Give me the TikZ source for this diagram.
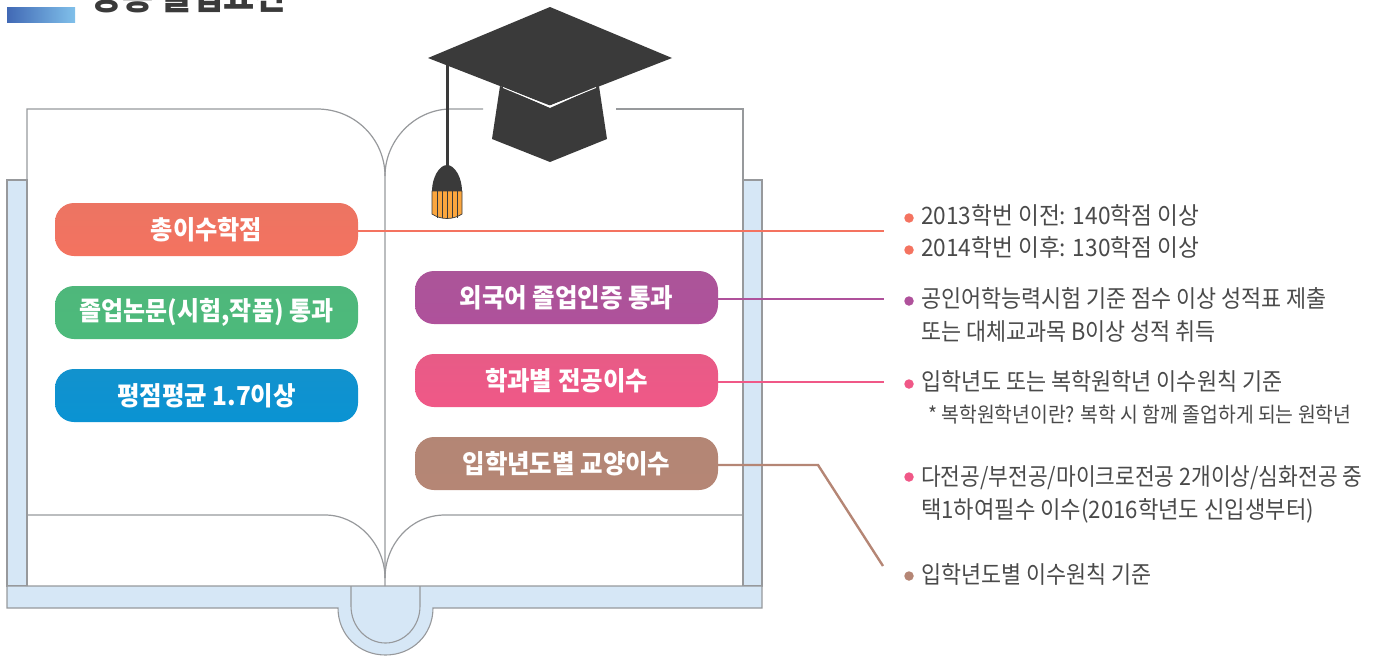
\documentclass[tikz,border=0pt]{standalone}
\usepackage{fontspec}
\usepackage{graphicx}
\setmainfont{Noto Sans CJK KR}
\newfontfamily\krb[FakeStretch=0.94]{Noto Sans CJK KR}
\newfontfamily\krr[FakeStretch=0.92]{Noto Sans CJK KR}
\definecolor{barl}{HTML}{4169B5}
\definecolor{barr}{HTML}{80C0EA}
\definecolor{coralc}{HTML}{F47360}
\definecolor{greenc}{HTML}{4CBA7B}
\definecolor{bluec}{HTML}{0A93D3}
\definecolor{purplec}{HTML}{AF519B}
\definecolor{pinkc}{HTML}{F05887}
\definecolor{brownc}{HTML}{B58675}
\definecolor{panelc}{HTML}{D6E7F6}
\definecolor{edgec}{HTML}{97999C}
\definecolor{capc}{HTML}{3A3A3A}
\definecolor{tasc}{HTML}{FBA63E}
\definecolor{txtc}{HTML}{4A4A4A}
\newcommand{\sx}[2]{\scalebox{#1}[1]{#2}}
\tikzset{
  x=1pt,y=-1pt,
  panel/.style={fill=panelc,draw=edgec,line width=1.1pt},
  pageline/.style={draw=edgec,line width=1.2pt},
  pill/.style={rounded corners=19pt,minimum width=303pt,minimum height=53pt,inner sep=0pt,text=white,font=\krb\bfseries\fontsize{26}{26}\selectfont,anchor=center},
  bullet/.style={circle,inner sep=0pt,minimum size=9.5pt},
  info/.style={anchor=base west,inner sep=0pt,text=txtc,font=\krr\fontsize{24}{24}\selectfont},
  link/.style={line width=2.4pt},
}
\begin{document}
\begin{tikzpicture}
\useasboundingbox (0,0) rectangle (1381,656);
% title
\fill[left color=barl,right color=barr] (7,7) rectangle (75,22);
\node[anchor=base west,inner sep=0pt,text=capc,font=\krb\bfseries\fontsize{36}{36}\selectfont] (title) at (91,9) {공통 졸업요건};
% covers
\draw[panel] (7,180) rectangle (27,586);
\draw[panel] (743,180) rectangle (762,586);
\draw[panel] (7,586) -- (762,586) -- (762,608) -- (433,608) .. controls (433,635) and (412,655) .. (385.5,655) .. controls (359,655) and (338,635) .. (338,608) -- (7,608) -- cycle;
\draw[edgec,line width=1.1pt] (351,586) -- (351,606) .. controls (351,627) and (367,643) .. (385.5,643) .. controls (404,643) and (420,627) .. (420,606) -- (420,586);
% pages
\draw[pageline] (27,586) -- (27,109) -- (317,109) .. controls (356,109) and (385,140) .. (385,176) -- (385,586);
\draw[pageline] (385,176) .. controls (385,140) and (415,109) .. (451,109) -- (483,109);
\draw[pageline] (616,109) -- (743,109) -- (743,586);
\draw[pageline] (27,515) -- (325,515) .. controls (358,515) and (385,545) .. (385,578);
\draw[pageline] (385,578) .. controls (385,545) and (410,515) .. (445,515) -- (743,515);
% cap
\draw[capc,line width=3pt] (447,60) -- (447,166);
\fill[capc] (500,86) -- (492,139) -- (550,162) -- (607,139) -- (599,86) -- (550,108) -- cycle;
\fill[capc] (550,7) -- (672,58) -- (550,105.5) -- (428,58) -- cycle;
\draw[white,line width=.9pt] (503,87.5) -- (549,106.5) -- (596,87.5);
\fill[capc] (432,191) .. controls (432,178) and (439,165) .. (447,165) .. controls (455,165) and (462,178) .. (462,191) -- cycle;
\draw[fill=tasc,draw=capc,line width=.7pt] (432,191) -- (432,214) .. controls (441,220) and (453,220) .. (462,214) -- (462,191) -- cycle;
\foreach \xs in {437,442,447,452,457}{\draw[capc,line width=.8pt] (\xs,191) -- (\xs,217.5);}
% pills
\node[pill,top color=coralc!93!gray,bottom color=coralc] (p1) at (206.5,229.5) {\sx{.99}{총이수학점}};
\node[pill,top color=greenc!95!gray,bottom color=greenc] (p2) at (206.5,312.5) {\sx{.98}{졸업논문(시험,작품) 통과}};
\node[pill,top color=bluec!93!gray,bottom color=bluec] (p3) at (206.5,395.5) {평점평균 1.7이상};
\node[pill,top color=purplec!92!gray,bottom color=purplec] (p4) at (566.5,297.5) {외국어 졸업인증 통과};
\node[pill,top color=pinkc!92!gray,bottom color=pinkc] (p5) at (566.5,380.5) {학과별 전공이수};
\node[pill,top color=brownc!97!gray,bottom color=brownc] (p6) at (566.5,463.5) {입학년도별 교양이수};
% connectors
\coordinate (e1) at (884,231);
\coordinate (e4) at (884,299);
\coordinate (e5) at (884,382);
\coordinate (k6) at (818,465);
\coordinate (e6) at (883,566);
\draw[link,coralc] (p1.east |- e1) -- (e1);
\draw[link,purplec] (p4.east |- e4) -- (e4);
\draw[link,pinkc] (p5.east |- e5) -- (e5);
\draw[link,brownc] (p6.east |- k6) -- (k6) -- (e6);
% bullets
\node[bullet,fill=coralc] (b1) at (909,218) {};
\node[bullet,fill=coralc] (b2) at (909,250) {};
\node[bullet,fill=purplec] (b3) at (909,301) {};
\node[bullet,fill=pinkc] (b4) at (909,384) {};
\node[bullet,fill=pinkc] (b5) at (909,477) {};
\node[bullet,fill=brownc] (b6) at (909,576) {};
% texts
\node[info] (t1) at (921,224) {\sx{1.026}{2013학번 이전: 140학점 이상}};
\node[info] (t2) at (921,256) {\sx{1.026}{2014학번 이후: 130학점 이상}};
\node[info] (t3) at (921,307.5) {\sx{.988}{공인어학능력시험 기준 점수 이상 성적표 제출}};
\node[info] (t3b) at (921,340) {\sx{.987}{또는 대체교과목 B이상 성적 취득}};
\node[info] (t4) at (921,390.5) {\sx{.989}{입학년도 또는 복학원학년 이수원칙 기준}};
\node[info,font=\krr\fontsize{21}{21}\selectfont] (t4b) at (928,422) {* 복학원학년이란? 복학 시 함께 졸업하게 되는 원학년};
\node[info] (t5) at (921,485) {\sx{.971}{다전공/부전공/마이크로전공 2개이상/심화전공 중}};
\node[info] (t5b) at (921,518) {\sx{1.005}{택1하여필수 이수(2016학년도 신입생부터)}};
\node[info] (t6) at (921,583) {\sx{.987}{입학년도별 이수원칙 기준}};
\end{tikzpicture}
\end{document}
